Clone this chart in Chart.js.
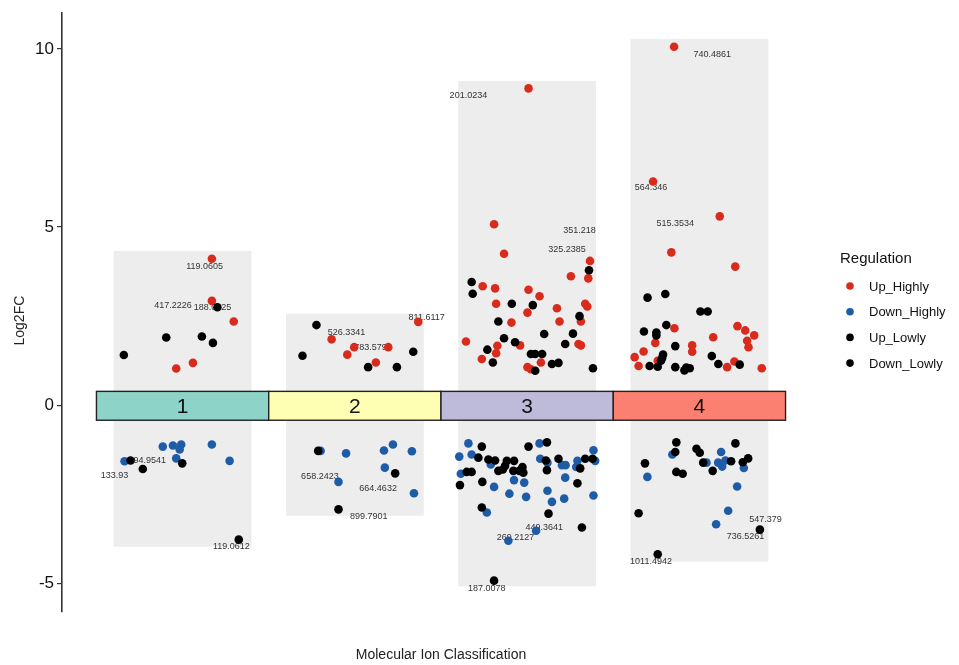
<!DOCTYPE html>
<html>
<head>
<meta charset="utf-8">
<script src="https://cdn.jsdelivr.net/npm/chart.js@4.4.1/dist/chart.umd.min.js"></script>
<style>
html,body{margin:0;padding:0;background:#fff;}
#wrap{width:959px;height:665px;}
</style>
</head>
<body>
<div id="wrap"><canvas id="c" width="959" height="665"></canvas></div>
<script>
// ---- data ----
const categories = ['1', '2', '3', '4'];
const seriesNames = ['Up_Highly', 'Down_Highly', 'Up_Lowly', 'Down_Lowly'];
const yTicks = [-5, 0, 5, 10];

// per-category data range boxes (Log2FC)
const boxTop = [4.33, 2.57, 9.10, 10.28];
const boxBottom = [-3.97, -3.10, -5.08, -4.39];

const upHighly = [
  [1.170,4.11],[1.170,2.93],[1.297,2.35],[1.060,1.19],[0.963,1.03],
  [1.865,1.85],[1.996,1.63],[2.194,1.63],[1.956,1.42],[2.122,1.20],[2.368,2.34],
  [3.008,8.89],[2.808,5.08],[2.866,4.25],[3.365,4.05],[3.355,3.56],[3.254,3.62],[2.742,3.34],[2.814,3.28],
  [3.008,3.24],[3.072,3.06],[2.820,2.85],[3.002,2.60],[3.173,2.72],[3.337,2.85],[3.349,2.77],[3.312,2.35],
  [2.909,2.32],[3.188,2.35],[2.959,1.68],[2.645,1.79],[3.298,1.72],[3.312,1.68],[2.827,1.67],[2.820,1.46],
  [2.737,1.30],[3.080,1.20],[3.002,1.07],[3.022,1.01],
  [3.853,10.06],[3.731,6.28],[4.118,5.30],[3.837,4.29],[4.208,3.89],[3.855,2.16],[4.221,2.22],[4.266,2.10],
  [4.318,1.96],[4.277,1.81],[4.285,1.63],[4.080,1.91],[3.744,1.75],[3.958,1.68],[3.958,1.50],[3.676,1.51],
  [3.624,1.35],[3.758,1.25],[3.647,1.10],[4.161,1.07],[4.203,1.23],[4.362,1.04]
];
const downHighly = [
  [0.885,-1.16],[0.944,-1.13],[0.992,-1.10],[0.983,-1.24],[1.170,-1.10],[0.963,-1.49],[1.273,-1.56],[0.663,-1.57],
  [1.801,-1.28],[1.949,-1.35],[2.169,-1.27],[2.221,-1.10],[2.331,-1.29],[2.174,-1.75],[1.905,-2.15],[2.343,-2.47],
  [2.659,-1.07],[3.072,-1.07],[3.385,-1.26],[2.606,-1.44],[2.678,-1.38],[2.789,-1.66],[3.076,-1.50],[3.118,-1.61],
  [3.202,-1.68],[3.223,-1.68],[3.292,-1.56],[3.285,-1.73],[3.395,-1.56],[2.615,-1.92],[3.221,-2.03],[2.924,-2.10],
  [2.983,-2.17],[2.808,-2.29],[2.897,-2.48],[2.994,-2.57],[3.118,-2.40],[3.144,-2.71],[3.215,-2.62],[3.385,-2.53],
  [2.766,-3.01],[3.052,-3.52],[2.891,-3.80],
  [3.843,-1.38],[4.126,-1.31],[4.041,-1.61],[4.109,-1.61],[4.132,-1.72],[4.151,-1.55],[4.258,-1.76],[3.698,-2.01],
  [4.219,-2.28],[4.167,-2.96],[4.097,-3.34]
];
const upLowly = [
  [1.202,2.75],[0.905,1.90],[1.112,1.93],[1.176,1.75],[0.659,1.41],
  [1.777,2.25],[1.696,1.39],[2.339,1.50],[2.077,1.07],[2.244,1.07],
  [3.359,3.79],[2.678,3.46],[2.684,3.13],[2.911,2.85],[3.033,2.81],[3.304,2.50],[2.833,2.35],[3.099,2.00],
  [3.266,2.01],[2.866,1.88],[2.930,1.77],[3.221,1.72],[2.769,1.56],[3.022,1.44],[3.047,1.44],[3.087,1.44],
  [2.801,1.20],[3.144,1.16],[3.182,1.19],[3.047,0.97],[3.382,1.04],
  [3.699,3.02],[3.802,3.12],[4.006,2.63],[4.048,2.63],[3.808,2.25],[3.678,2.07],[3.750,2.04],[3.750,1.96],
  [3.860,1.66],[3.789,1.42],[3.783,1.32],[3.777,1.25],[4.072,1.38],[3.711,1.10],[3.758,1.08],[3.860,1.07],
  [3.913,0.98],[3.924,1.06],[3.944,1.04],[4.110,1.16],[4.234,1.14]
];
const downLowly = [
  [0.998,-1.63],[0.698,-1.55],[0.769,-1.79],[1.326,-3.77],
  [1.787,-1.28],[2.234,-1.91],[1.905,-2.92],
  [2.737,-1.16],[3.008,-1.16],[3.115,-1.04],[2.717,-1.47],[2.775,-1.52],[2.814,-1.55],[2.882,-1.56],[2.924,-1.56],
  [2.872,-1.70],[3.109,-1.55],[3.182,-1.50],[3.308,-1.77],[3.337,-1.50],[3.380,-1.50],[2.973,-1.73],[2.859,-1.80],
  [2.833,-1.84],[2.920,-1.84],[2.978,-1.89],[2.955,-1.84],[2.649,-1.87],[2.678,-1.87],[3.115,-1.82],[2.740,-2.15],
  [2.610,-2.24],[3.292,-2.19],[2.737,-2.87],[3.124,-3.04],[3.318,-3.43],[2.808,-4.92],
  [3.866,-1.04],[3.860,-1.31],[3.983,-1.22],[4.002,-1.33],[4.209,-1.07],[4.022,-1.61],[4.184,-1.57],[4.252,-1.60],
  [4.283,-1.49],[3.684,-1.63],[3.866,-1.87],[3.903,-1.92],[4.077,-1.84],[3.647,-3.03],[4.351,-3.49],[3.758,-4.18]
];

// annotated ions: text, x (category units), y (Log2FC)
const labelText = ['119.0605','417.2226','188.0625','194.9541','133.93','119.0612',
  '526.3341','783.5796','811.6117','658.2423','664.4632','899.7901',
  '201.0234','351.218','325.2385','449.3641','269.2127','187.0078',
  '740.4861','564.346','515.3534','547.379','736.5261','1011.4942'];
const labelX = [1.128,0.944,1.174,0.795,0.605,1.283,
  1.952,2.105,2.417,1.797,2.135,2.080,
  2.659,3.304,3.231,3.099,2.932,2.766,
  4.074,3.719,3.860,4.384,4.267,3.719];
const labelY = [3.88,2.81,2.74,-1.56,-1.96,-3.97,
  2.04,1.63,2.47,-2.01,-2.34,-3.12,
  8.68,4.91,4.37,-3.43,-3.71,-5.15,
  9.85,6.10,5.09,-3.21,-3.69,-4.37];

// ---- styles ----
const FONT = '"Liberation Sans", Arial, Helvetica, sans-serif';
const seriesColors = ['#D92B1C', '#1F5CA8', '#000000', '#000000'];
const tileColors = ['#8DD3C7', '#FFFFB3', '#BEBADA', '#FB8072'];

const toXY = arr => arr.map(p => ({x: p[0], y: p[1]}));
const seriesData = [upHighly, downHighly, upLowly, downLowly];

const decor = {
  id: 'decor',
  beforeDatasetsDraw(chart) {
    const {ctx, scales: {x, y}} = chart;
    ctx.save();
    // grey range boxes
    categories.forEach((c, i) => {
      const cx = i + 1;
      const l = x.getPixelForValue(cx - 0.4), r = x.getPixelForValue(cx + 0.4);
      const t = y.getPixelForValue(boxTop[i]), b = y.getPixelForValue(boxBottom[i]);
      ctx.fillStyle = '#EDEDED';
      ctx.fillRect(l, t, r - l, b - t);
    });
    // category tiles
    categories.forEach((c, i) => {
      const cx = i + 1;
      const l = x.getPixelForValue(cx - 0.5), r = x.getPixelForValue(cx + 0.5);
      const t = y.getPixelForValue(0.39), b = y.getPixelForValue(-0.42);
      ctx.fillStyle = tileColors[i];
      ctx.fillRect(l, t, r - l, b - t);
      ctx.strokeStyle = '#222';
      ctx.lineWidth = 1.4;
      ctx.strokeRect(l, t, r - l, b - t);
      ctx.fillStyle = '#111';
      ctx.font = '21px ' + FONT;
      ctx.textAlign = 'center';
      ctx.textBaseline = 'middle';
      ctx.fillText(c, (l + r) / 2, (t + b) / 2 + 1);
    });
    // ion labels
    ctx.font = '9px ' + FONT;
    ctx.fillStyle = '#333';
    ctx.textAlign = 'center';
    ctx.textBaseline = 'middle';
    labelText.forEach((s, i) => {
      ctx.fillText(s, x.getPixelForValue(labelX[i]), y.getPixelForValue(labelY[i]));
    });
    ctx.restore();
  },
  afterDraw(chart) {
    const {ctx, chartArea} = chart;
    ctx.save();
    // axis titles
    ctx.fillStyle = '#222';
    ctx.font = '14px ' + FONT;
    ctx.textAlign = 'center';
    ctx.textBaseline = 'middle';
    ctx.fillText('Molecular Ion Classification', (chartArea.left + chartArea.right) / 2, 655);
    ctx.save();
    ctx.translate(20, (chartArea.top + chartArea.bottom) / 2 + 8);
    ctx.rotate(-Math.PI / 2);
    ctx.fillText('Log2FC', 0, 0);
    ctx.restore();
    // legend
    ctx.textAlign = 'left';
    ctx.font = '15px ' + FONT;
    ctx.fillStyle = '#111';
    ctx.fillText('Regulation', 840, 259);
    ctx.font = '13px ' + FONT;
    seriesNames.forEach((n, i) => {
      const yy = 286 + i * 25.7;
      ctx.beginPath();
      ctx.arc(850, yy, 3.8, 0, Math.PI * 2);
      ctx.fillStyle = seriesColors[i];
      ctx.fill();
      ctx.fillStyle = '#111';
      ctx.fillText(n, 869, yy + 1);
    });
    ctx.restore();
  }
};

new Chart(document.getElementById('c'), {
  type: 'scatter',
  data: {
    datasets: seriesNames.map((n, i) => ({
      label: n,
      data: toXY(seriesData[i]),
      backgroundColor: seriesColors[i],
      borderColor: seriesColors[i],
      borderWidth: 0,
      pointRadius: 4.3,
      pointHoverRadius: 4.3,
      order: i < 2 ? 2 + i : 0
    }))
  },
  options: {
    responsive: false,
    animation: false,
    devicePixelRatio: 1,
    layout: {padding: {top: 10, right: 139, bottom: 53, left: 0}},
    plugins: {legend: {display: false}, tooltip: {enabled: false}},
    scales: {
      x: {type: 'linear', min: 0.3, max: 4.7, display: false},
      y: {
        type: 'linear', min: -5.8, max: 11.0,
        afterBuildTicks(scale) { scale.ticks = yTicks.map(v => ({value: v})); },
        afterFit(scale) { scale.width = 62; },
        ticks: {
          font: {family: FONT, size: 17},
          color: '#111',
          padding: 3,
          callback: v => String(v)
        },
        grid: {display: true, drawOnChartArea: false, drawTicks: true, tickLength: 5, color: '#333', lineWidth: 1.2},
        border: {display: true, color: '#333', width: 1.6}
      }
    }
  },
  plugins: [decor]
});
</script>
</body>
</html>
